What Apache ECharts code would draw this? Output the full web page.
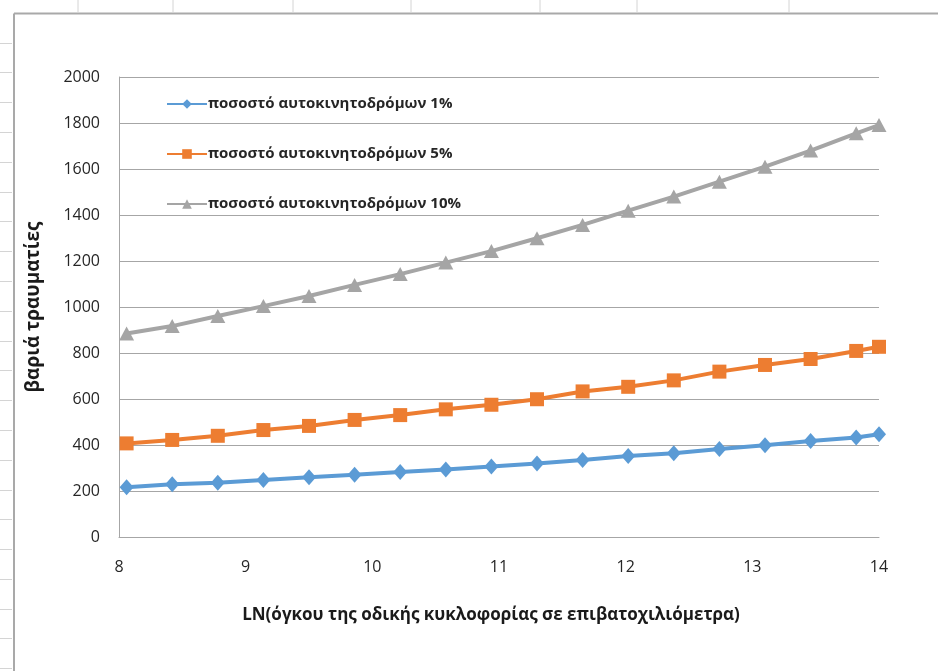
<!DOCTYPE html>
<html>
<head>
<meta charset="utf-8">
<script src="https://cdn.jsdelivr.net/npm/echarts@6/dist/echarts.min.js"></script>
<style>
  html, body { margin: 0; padding: 0; background: #ffffff; }
  #chart { width: 938px; height: 671px; }
</style>
</head>
<body>
<div id="chart"></div>
<script>
// LN of traffic volume (passenger-km)
const lnVolume = [8.06, 8.42, 8.78, 9.14, 9.50, 9.86, 10.22, 10.58, 10.94, 11.30, 11.66, 12.02, 12.38, 12.74, 13.10, 13.46, 13.82, 14.00];

// Serious injuries by motorway share
const share1 = [216, 229, 236, 248, 260, 271, 283, 294, 306, 320, 335, 352, 364, 383, 399, 417, 433, 447];
const share5 = [407, 422, 440, 465, 483, 509, 530, 555, 575, 599, 633, 653, 681, 719, 748, 774, 809, 827];
const share10 = [885, 917, 961, 1004, 1048, 1096, 1143, 1193, 1243, 1299, 1357, 1419, 1480, 1545, 1610, 1680, 1755, 1791];

const seriesNames = [
  'ποσοστό αυτοκινητοδρόμων 1%',
  'ποσοστό αυτοκινητοδρόμων 5%',
  'ποσοστό αυτοκινητοδρόμων 10%'
];
const xTitle = 'LN(όγκου της οδικής κυκλοφορίας σε επιβατοχιλιόμετρα)';
const yTitle = 'βαριά τραυματίες';

const FONT = '"Open Sans", "DejaVu Sans", sans-serif';

function pairs(ys) {
  return lnVolume.map((x, i) => [x, ys[i]]);
}

// spreadsheet frame around the embedded chart
const frame = [];
const frameColor = '#a9a9a9';
const cellColor = '#d4d4d4';
frame.push({ type: 'line', shape: { x1: 14, y1: 13.5, x2: 938, y2: 13.5 }, style: { stroke: frameColor, lineWidth: 2 } });
frame.push({ type: 'line', shape: { x1: 14, y1: 13.5, x2: 14, y2: 671 }, style: { stroke: frameColor, lineWidth: 2 } });
[78, 173, 293, 411, 540, 637, 789].forEach(x => {
  frame.push({ type: 'line', shape: { x1: x, y1: 0, x2: x, y2: 12 }, style: { stroke: cellColor, lineWidth: 1 } });
});
for (let y = 42.5; y < 671; y += 29.8) {
  frame.push({ type: 'line', shape: { x1: 0, y1: Math.round(y) + 0.5, x2: 12, y2: Math.round(y) + 0.5 }, style: { stroke: cellColor, lineWidth: 1 } });
}

const chart = echarts.init(document.getElementById('chart'), null, { renderer: 'canvas' });
chart.setOption({
  backgroundColor: '#ffffff',
  animation: false,
  graphic: frame,
  grid: {
    left: 119, right: 59, top: 77, bottom: 134,
    show: false
  },
  legend: {
    orient: 'vertical',
    left: 161,
    top: 89,
    itemWidth: 40,
    itemHeight: 12,
    itemGap: 30,
    textStyle: { fontFamily: FONT, fontSize: 15, fontWeight: 'bold', color: '#262626', lineHeight: 20, padding: [0, 0, 0, -4] },
    data: seriesNames
  },
  xAxis: {
    type: 'value',
    min: 8, max: 14, interval: 1,
    name: xTitle,
    nameLocation: 'middle',
    nameGap: 70,
    nameTextStyle: { fontFamily: FONT, fontSize: 17, fontWeight: 'bold', color: '#1a1a1a', padding: [0, 16, 0, 0] },
    axisLine: { show: true, lineStyle: { color: '#a6a6a6', width: 1 } },
    axisTick: { show: false },
    splitLine: { show: false },
    axisLabel: { fontFamily: FONT, fontSize: 16, color: '#262626', margin: 22 }
  },
  yAxis: {
    type: 'value',
    min: 0, max: 2000, interval: 200,
    name: yTitle,
    nameLocation: 'middle',
    nameGap: 76,
    nameTextStyle: { fontFamily: FONT, fontSize: 19, fontWeight: 'bold', color: '#1a1a1a' },
    axisLine: { show: true, lineStyle: { color: '#a6a6a6', width: 1 } },
    axisTick: { show: false },
    splitLine: { show: true, lineStyle: { color: '#a6a6a6', width: 1 } },
    axisLabel: { fontFamily: FONT, fontSize: 16, color: '#262626', margin: 19, formatter: v => String(v) }
  },
  series: [
    {
      name: seriesNames[0], type: 'line', data: pairs(share1),
      symbol: 'diamond', symbolSize: [14, 16],
      lineStyle: { color: '#5b9bd5', width: 4 },
      itemStyle: { color: '#5b9bd5' }, z: 3
    },
    {
      name: seriesNames[1], type: 'line', data: pairs(share5),
      symbol: 'rect', symbolSize: 14,
      lineStyle: { color: '#ed7d31', width: 4 },
      itemStyle: { color: '#ed7d31' }, z: 3
    },
    {
      name: seriesNames[2], type: 'line', data: pairs(share10),
      symbol: 'triangle', symbolSize: [15, 14],
      lineStyle: { color: '#a5a5a5', width: 4 },
      itemStyle: { color: '#a5a5a5' }, z: 3
    }
  ]
});
</script>
</body>
</html>
